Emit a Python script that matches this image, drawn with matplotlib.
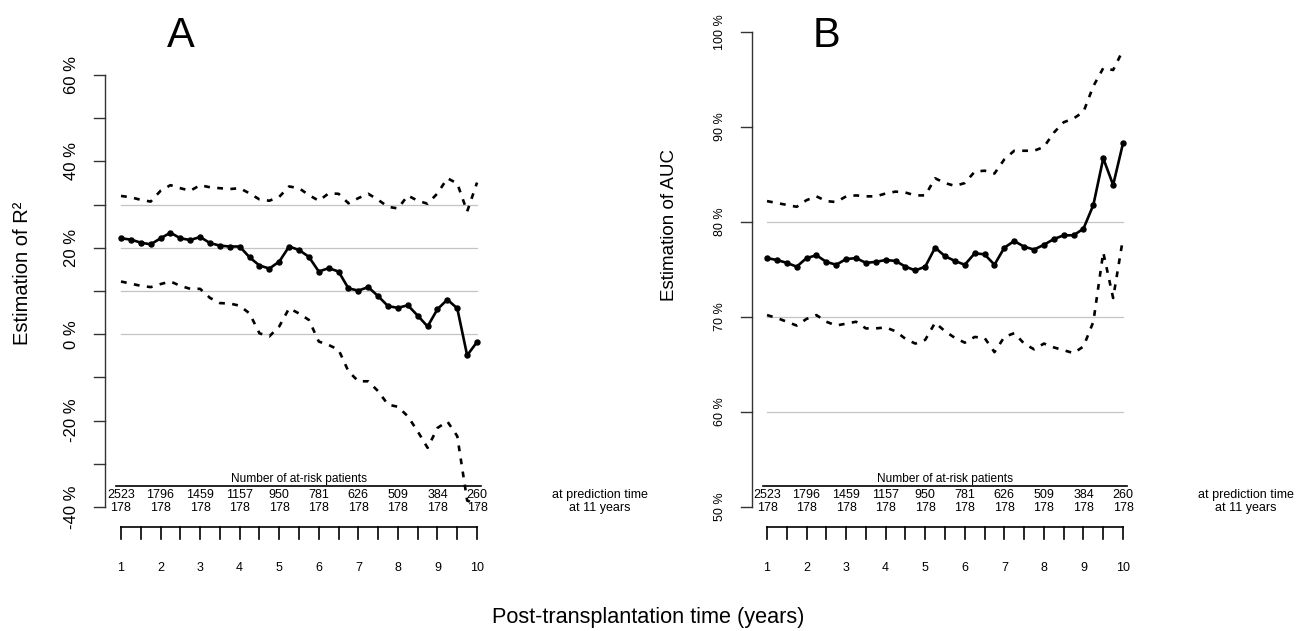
import matplotlib
matplotlib.use('Agg')
import matplotlib.pyplot as plt
import numpy as np

plt.rcParams['font.family'] = ['Liberation Sans', 'DejaVu Sans']

# ── Donnees ───────────────────────────────────────────────────────────────────
times = np.linspace(1, 10, 37)          # temps de prediction, pas de 0.25 an

r2_est = [22.2, 21.9, 21.2, 20.8, 22.2, 23.5, 22.2, 21.8, 22.5, 21.1, 20.5, 20.3,
          20.3, 17.8, 15.9, 15.2, 16.8, 20.3, 19.5, 17.9, 14.5, 15.3, 14.5, 10.6,
          10.1, 10.9, 8.8, 6.5, 6.1, 6.7, 4.3, 1.8, 5.8, 8.0, 6.0, -4.9, -1.8]
r2_up = [32.0, 31.7, 31.1, 30.7, 33.2, 34.5, 33.8, 33.2, 34.5, 34.0, 33.8, 33.6,
         33.8, 32.6, 31.2, 30.9, 31.8, 34.2, 33.8, 32.2, 30.9, 32.6, 32.5, 30.3,
         31.5, 32.5, 31.1, 29.5, 29.1, 32.1, 30.9, 30.2, 32.6, 36.1, 34.9, 28.4, 35.1]
r2_low = [12.2, 11.7, 11.2, 10.9, 11.6, 12.2, 11.2, 10.5, 10.5, 8.4, 7.2, 7.1,
          6.6, 4.8, 0.2, -0.5, 1.8, 6.0, 4.8, 3.3, -1.7, -2.5, -3.6, -8.6,
          -10.9, -10.9, -13.2, -16.3, -16.8, -19.0, -22.5, -26.3, -21.7, -20.2,
          -23.6, -38.5, -39.5]

auc_est = [76.2, 76.0, 75.7, 75.3, 76.2, 76.5, 75.8, 75.5, 76.1, 76.2, 75.7, 75.8,
           76.0, 75.9, 75.3, 74.9, 75.3, 77.3, 76.4, 75.9, 75.5, 76.7, 76.6, 75.5,
           77.3, 78.0, 77.4, 77.1, 77.6, 78.2, 78.6, 78.6, 79.3, 81.8, 86.7, 83.9, 88.3]
auc_up = [82.2, 82.0, 81.8, 81.6, 82.3, 82.7, 82.2, 82.1, 82.7, 82.8, 82.7, 82.7,
          83.0, 83.2, 83.1, 82.8, 82.8, 84.6, 84.1, 83.8, 84.1, 85.3, 85.4, 85.1,
          86.6, 87.5, 87.5, 87.5, 87.9, 89.4, 90.5, 90.9, 91.6, 94.3, 96.2, 96.0, 98.1]
auc_low = [70.2, 69.9, 69.5, 69.1, 69.8, 70.2, 69.5, 69.1, 69.3, 69.5, 68.8, 68.8,
           68.9, 68.5, 67.7, 67.2, 67.6, 69.4, 68.5, 67.8, 67.3, 67.9, 67.8, 66.3,
           67.9, 68.3, 67.2, 66.6, 67.2, 66.8, 66.5, 66.2, 66.9, 69.5, 76.8, 72.0, 78.3]

risk_years = [1, 2, 3, 4, 5, 6, 7, 8, 9, 10]
n_at_risk = [2523, 1796, 1459, 1157, 950, 781, 626, 509, 384, 260]
n_at_11y = [178] * 10

r2_ticks = [60, 50, 40, 30, 20, 10, 0, -10, -20, -30, -40]
r2_labels = [60, 40, 20, 0, -20, -40]
r2_grid = [30, 20, 10, 0]
auc_ticks = [100, 90, 80, 70, 60, 50]
auc_grid = [80, 70, 60]

W, H = 1297, 631
fig = plt.figure(figsize=(W / 100, H / 100), dpi=100)
fig.patch.set_facecolor('white')


def make_panel(x0, x1, px_t1, px_per_year, y_ref, py_ref, px_per_unit):
    """axes couvrant [x0, x1] px en largeur, toute la hauteur, avec echelle fixe"""
    ax = fig.add_axes([x0 / W, 0, (x1 - x0) / W, 1])
    ax.set_xlim(1 + (x0 - px_t1) / px_per_year, 1 + (x1 - px_t1) / px_per_year)
    ax.set_ylim(y_ref - (H - py_ref) / px_per_unit, y_ref + py_ref / px_per_unit)
    ax.axis('off')
    X = lambda px: 1 + (px - px_t1) / px_per_year
    Y = lambda py: y_ref - (py - py_ref) / px_per_unit
    return ax, X, Y


def draw_panel(ax, X, Y, est, up, low, ticks, labels, grid, tick_fs, lab_x,
               ylabel, ylab_x, ylab_y, ylab_fs, letter, axis_px):
    kw = dict(clip_on=False)
    for g in grid:
        ax.plot([1, 10], [g, g], color='#c4c4c4', lw=0.9, zorder=1)
    # axe vertical
    ax.plot([X(axis_px), X(axis_px)], [ticks[0], ticks[-1]], color='#333333', lw=1.0, **kw)
    for t in ticks:
        ax.plot([X(axis_px - 11), X(axis_px)], [t, t], color='#333333', lw=1.0, **kw)
    for t in labels:
        ax.text(X(lab_x), t, f'{t} %', rotation=90, ha='center', va='center',
                fontsize=tick_fs, **kw)
    ax.text(X(ylab_x), Y(ylab_y), ylabel, rotation=90, ha='center', va='center',
            fontsize=ylab_fs, **kw)
    ax.text(2.5, Y(36), letter, ha='center', va='center', fontsize=30, **kw)

    # courbes
    ax.plot(times, est, color='black', lw=1.9, marker='o', markersize=3.6, zorder=3)
    for s in (up, low):
        ax.plot(times, s, color='black', lw=1.9, linestyle=(0, (2.2, 2.8)),
                zorder=3, clip_on=False)

    # tableau des patients a risque
    ax.plot([X(116 if axis_px < 600 else 763) - 0 * 1, 10.1], [Y(486), Y(486)],
            color='black', lw=1.2, **kw)
    ax.text(5.5, Y(485), 'Number of at-risk patients', ha='center', va='bottom',
            fontsize=8.6, **kw)
    for yr, n1, n2 in zip(risk_years, n_at_risk, n_at_11y):
        ax.text(yr, Y(495), str(n1), ha='center', va='center', fontsize=9, **kw)
        ax.text(yr, Y(508), str(n2), ha='center', va='center', fontsize=9, **kw)
    ax.text(13.1, Y(495), 'at prediction time', ha='center', va='center', fontsize=9, **kw)
    ax.text(13.1, Y(508), 'at 11 years', ha='center', va='center', fontsize=9, **kw)

    # axe du temps
    ax.plot([1, 10], [Y(527), Y(527)], color='black', lw=1.2, **kw)
    for t in np.arange(1, 10.01, 0.5):
        ax.plot([t, t], [Y(527), Y(539)], color='black', lw=1.2, **kw)
    for yr in risk_years:
        ax.text(yr, Y(568), str(yr), ha='center', va='center', fontsize=9, **kw)


# ── Panneau A : R2 ─────────────────────────────────────────────────────────────
axA, XA, YA = make_panel(0, 640, 121, 39.56, 60, 75, 4.32)
draw_panel(axA, XA, YA, r2_est, r2_up, r2_low, r2_ticks, r2_labels, r2_grid, 12, 72,
           'Estimation of R²', 23, 273, 14.5, 'A', 105)

# ── Panneau B : AUC ────────────────────────────────────────────────────────────
axB, XB, YB = make_panel(640, W, 767, 39.56, 100, 32, 9.5)
draw_panel(axB, XB, YB, auc_est, auc_up, auc_low, auc_ticks, auc_ticks, auc_grid, 9, 720,
           'Estimation of AUC', 670, 225, 13.5, 'B', 752)

fig.text(648 / W, 1 - 618 / H, 'Post-transplantation time (years)', ha='center',
         va='center', fontsize=15.6)

fig.savefig('out.png', dpi=100, facecolor='white')
